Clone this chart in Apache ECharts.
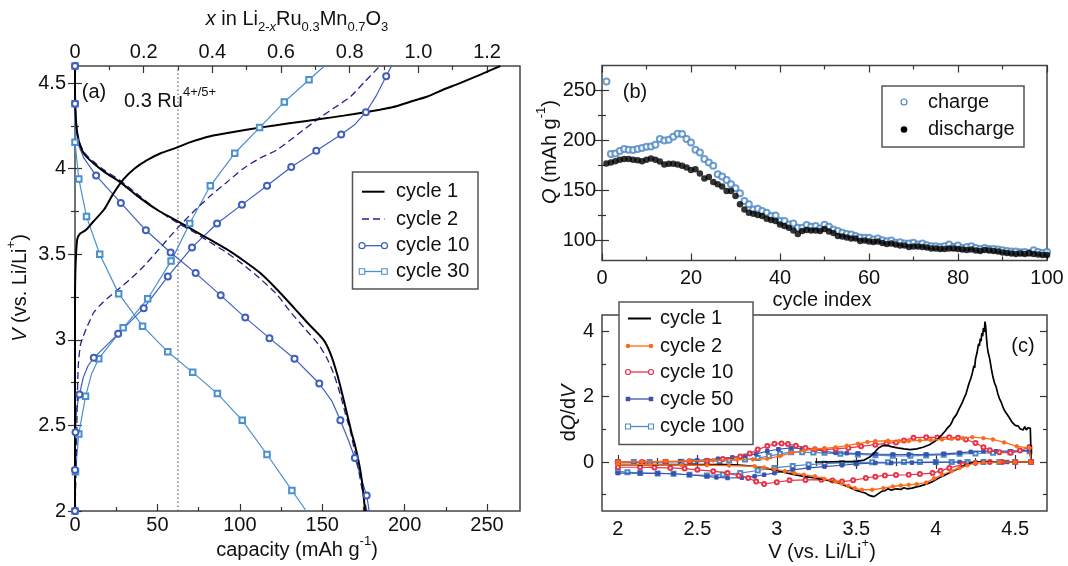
<!DOCTYPE html>
<html><head><meta charset="utf-8">
<script src="https://cdn.jsdelivr.net/npm/echarts@6/dist/echarts.min.js"></script>
<style>html,body{margin:0;padding:0;background:#fff}#c{width:1068px;height:566px}</style>
</head><body><div id="c"></div>
<script>
// ---------------- DATA ----------------
// Panel (a): [capacity mAh/g, V, marker flag]
const aCycle1Charge = [[0,2.0],[0,3.2],[0.3,3.42],[1.3,3.585],[3,3.62],[6.4,3.64],[11,3.69],[17.5,3.76],[23,3.85],[29.6,3.94],[36,4.0],[43.7,4.05],[52,4.09],[60.9,4.12],[70,4.155],[82,4.19],[96,4.215],[112,4.24],[130,4.265],[148.8,4.29],[163,4.31],[176,4.33],[185,4.345],[193,4.36],[203,4.39],[213.5,4.42],[223,4.46],[233.6,4.50],[246,4.55],[258,4.60]];
const aCycle1Discharge = [[0,4.6],[0,4.45],[0.5,4.3],[1.5,4.2],[3.3,4.13],[6,4.08],[11.4,4.03],[18,3.98],[27.6,3.92],[38,3.84],[49.8,3.76],[61,3.70],[72,3.64],[82,3.585],[92,3.53],[102,3.465],[112.4,3.39],[122,3.30],[132.6,3.19],[142,3.09],[150.8,3.0],[155,2.92],[158.9,2.805],[162,2.69],[165,2.57],[168,2.45],[170,2.38],[172.5,2.27],[174,2.18],[175.2,2.08],[176,2.0]];
const aCycle2Charge = [[0,2.0],[0.8,2.3],[1.3,2.6],[2,2.85],[3.3,2.97],[5,3.02],[7,3.07],[9.4,3.12],[11.4,3.16],[17,3.22],[25.6,3.29],[33,3.35],[41.7,3.43],[51,3.53],[61.9,3.65],[72,3.75],[82,3.84],[92,3.92],[102,4.0],[112,4.06],[122.5,4.11],[135,4.2],[148.8,4.30],[158,4.36],[167,4.42],[176,4.51],[185,4.6]];
const aCycle2Discharge = [[0,4.6],[0,4.45],[0.5,4.3],[1.5,4.2],[3.3,4.14],[6,4.09],[11.4,4.04],[18,3.99],[27.6,3.93],[38,3.85],[49.8,3.76],[61,3.69],[72,3.63],[82,3.57],[92,3.51],[102,3.44],[112,3.36],[122,3.27],[131,3.16],[140,3.06],[148,2.97],[153,2.89],[157,2.8],[161,2.68],[164,2.57],[167,2.47],[169,2.38],[171.5,2.27],[173.5,2.16],[175.5,2.07],[177,2.0]];
const aCycle10Charge = [[0,2.0,1],[0,2.24,1],[0.3,2.46,1],[1,2.6,0],[2.7,2.68,1],[5,2.78,0],[8,2.85,0],[11.4,2.895,1],[26.2,3.035,1],[41.7,3.185,1],[56.3,3.37,1],[71,3.54,1],[86.2,3.68,1],[101.3,3.79,1],[116.5,3.90,1],[131.2,4.01,1],[146.4,4.105,1],[161.5,4.20,1],[170,4.26,0],[176.5,4.33,1],[183,4.43,0],[188.8,4.54,1],[192,4.6,0]];
const aCycle10Discharge = [[0,4.6,1],[0,4.38,1],[0.4,4.25,0],[2,4.14,0],[5.5,4.06,0],[12.8,3.96,1],[27.8,3.80,1],[43,3.64,1],[58,3.51,1],[73.2,3.39,1],[88.4,3.26,1],[103.3,3.13,1],[118,3.01,1],[133.2,2.89,1],[148.2,2.745,1],[156,2.64,0],[161,2.53,1],[166,2.41,0],[169.8,2.31,1],[174,2.18,0],[177,2.09,1],[178.5,2.0,0]];
const aCycle30Charge = [[0,2.0,1],[0.3,2.23,1],[2.3,2.45,1],[6.4,2.67,1],[10,2.8,0],[14.4,2.89,1],[29.2,3.07,1],[44.1,3.24,1],[58.3,3.46,1],[69.6,3.68,1],[82.1,3.90,1],[96.9,4.09,1],[112,4.24,1],[127,4.39,1],[142,4.52,1],[151.4,4.6,0]];
const aCycle30Discharge = [[0,4.6,1],[0,4.38,1],[0,4.155,1],[2.3,3.94,1],[7,3.72,1],[15,3.50,1],[26.5,3.27,1],[41,3.08,1],[56.3,2.93,1],[71.4,2.81,1],[86.4,2.686,1],[101.5,2.53,1],[116.5,2.33,1],[131.6,2.12,1],[140.3,2.0,0]];
const ruLimitX = 0.3;           // x in Li(2-x)... for 0.3 Ru4+/5+
const capPerX = 250 / 1.2;      // capacity per unit x (top axis scale)

// Panel (b)
const cycleIndex = [1,2,3,4,5,6,7,8,9,10,11,12,13,14,15,16,17,18,19,20,21,22,23,24,25,26,27,28,29,30,31,32,33,34,35,36,37,38,39,40,41,42,43,44,45,46,47,48,49,50,51,52,53,54,55,56,57,58,59,60,61,62,63,64,65,66,67,68,69,70,71,72,73,74,75,76,77,78,79,80,81,82,83,84,85,86,87,88,89,90,91,92,93,94,95,96,97,98,99,100];
const qCharge = [259,186.4,187,189.4,191.4,190.7,190.4,191.4,192.4,193.7,194,195.7,201.4,200,200.8,203.8,206.8,206.5,201.4,198.1,190.7,188,181.4,178,174.7,166.3,164,160.6,156.2,152.2,147.2,139.5,136.2,131.1,131.8,129.5,127.8,124.4,125.1,119.4,119.4,116,117,112.7,112.7,115.4,113.7,114.4,112,115.7,113.7,111,109.4,107.7,106.4,106,104.4,103,102.7,102.7,101,102,100.3,99.3,100,97.7,98.3,97,97,97.7,96,97,95.3,94.3,94.3,93.6,94.3,96,93.6,95,92.6,93.6,94.3,92.6,91.6,92.6,91.6,91.6,91,90.3,89.6,89,89,88.3,88.6,87.6,90.3,88.6,87.6,88.6];
const qDischarge = [177,178,179.3,180.7,181.4,181.4,180.7,180.3,179.3,180.7,182,180.7,179,176,176.7,176.7,176,174.7,173,170.6,171.3,167,162,163.6,158.6,156.2,153.9,149.5,149.5,144.5,136.2,131.1,127.8,126.8,125.4,124.4,121.8,120.4,119.4,116,114.4,112.7,110,106.5,109.5,110.5,110,110,109.5,111.5,109,107.5,104.5,104,103,102,102,99.5,100,99,98.5,99,97.5,96.5,97,96,95,95,93.5,94,94,93.5,93,92,92,91.5,91.5,92,92,91.5,91,90.5,91,90,89.5,90.5,90,89.5,89,88,87.5,87,86.5,87,86.5,87.5,86.5,86,85.5,85.5];

// Panel (c): [V, dQ/dV]
const cCycle1 = [[3.24,0],[3.30,0.0],[3.40,0.01],[3.50,0.02],[3.55,0.06],[3.59,0.17],[3.62,0.32],[3.64,0.43],[3.67,0.51],[3.70,0.5],[3.72,0.47],[3.76,0.43],[3.80,0.40],[3.84,0.38],[3.88,0.40],[3.92,0.45],[3.96,0.53],[3.99,0.62],[4.02,0.74],[4.04,0.84],[4.06,0.95],[4.07,1.02],[4.09,1.12],[4.10,1.2],[4.11,1.32],[4.12,1.36],[4.13,1.45],[4.15,1.66],[4.16,1.72],[4.17,1.85],[4.18,1.98],[4.19,2.08],[4.20,2.25],[4.21,2.42],[4.22,2.55],[4.225,2.5],[4.23,2.72],[4.24,2.95],[4.245,2.88],[4.25,3.15],[4.26,3.35],[4.265,3.5],[4.27,3.62],[4.275,3.55],[4.28,3.78],[4.285,3.7],[4.29,3.95],[4.295,3.85],[4.30,4.1],[4.305,3.98],[4.31,4.3],[4.315,4.1],[4.32,3.75],[4.325,3.5],[4.33,3.35],[4.335,3.4],[4.34,3.15],[4.35,2.85],[4.355,2.9],[4.36,2.6],[4.37,2.42],[4.38,2.3],[4.385,2.34],[4.39,2.1],[4.40,1.95],[4.41,1.85],[4.42,1.72],[4.43,1.6],[4.44,1.52],[4.45,1.48],[4.46,1.38],[4.47,1.3],[4.48,1.22],[4.49,1.18],[4.50,1.12],[4.51,1.08],[4.52,1.1],[4.53,1.02],[4.54,1.05],[4.55,0.98],[4.56,1.08],[4.57,0.98],[4.58,1.05],[4.595,1.03],[4.598,0.5],[4.6,0],
  [4.5,0],[4.4,0],[4.25,0],[4.2,-0.06],[4.15,-0.18],[4.1,-0.3],[4.04,-0.44],[3.98,-0.6],[3.94,-0.68],[3.9,-0.74],[3.88,-0.76],[3.85,-0.8],[3.84,-0.77],[3.82,-0.82],[3.8,-0.79],[3.78,-0.84],[3.75,-0.82],[3.72,-0.86],[3.7,-0.82],[3.68,-0.88],[3.66,-0.9],[3.63,-1.0],[3.61,-1.06],[3.6,-1.0],[3.58,-1.02],[3.556,-0.95],[3.5,-0.87],[3.47,-0.8],[3.42,-0.7],[3.366,-0.6],[3.3,-0.54],[3.24,-0.49],[3.17,-0.44],[3.11,-0.39],[3.05,-0.32],[2.985,-0.24],[2.92,-0.18],[2.86,-0.13],[2.78,-0.1],[2.71,-0.08],[2.5,-0.08],[2.2,-0.08],[2.0,-0.08]];
const cCycle2 = [[2.0,0],[2.15,0.01],[2.3,0.02],[2.45,0.03],[2.6,0.05],[2.75,0.07],[2.85,0.08],[2.94,0.1],[3.02,0.18],[3.09,0.28],[3.17,0.35],[3.24,0.4],[3.3,0.42],[3.37,0.45],[3.44,0.5],[3.51,0.56],[3.57,0.61],[3.62,0.64],[3.7,0.65],[3.77,0.64],[3.83,0.64],[3.9,0.66],[3.97,0.67],[4.04,0.69],[4.1,0.71],[4.17,0.73],[4.23,0.76],[4.3,0.73],[4.36,0.69],[4.43,0.6],[4.51,0.48],[4.59,0.43],[4.6,0],
  [4.5,0],[4.4,0],[4.3,-0.01],[4.25,-0.03],[4.2,-0.1],[4.15,-0.18],[4.1,-0.28],[4.04,-0.39],[3.99,-0.5],[3.94,-0.63],[3.88,-0.68],[3.83,-0.7],[3.78,-0.72],[3.73,-0.75],[3.67,-0.8],[3.6,-0.85],[3.535,-0.85],[3.49,-0.8],[3.45,-0.73],[3.41,-0.66],[3.37,-0.6],[3.3,-0.52],[3.24,-0.44],[3.17,-0.39],[3.11,-0.34],[3.05,-0.28],[2.985,-0.22],[2.92,-0.17],[2.86,-0.13],[2.7,-0.11],[2.56,-0.1],[2.4,-0.09],[2.2,-0.08],[2.0,-0.07]];
const cCycle10 = [[2.0,0],[2.15,0.0],[2.3,0.01],[2.45,0.02],[2.56,0.04],[2.66,0.09],[2.77,0.17],[2.83,0.26],[2.88,0.38],[2.94,0.49],[2.985,0.56],[3.03,0.57],[3.07,0.55],[3.12,0.5],[3.18,0.43],[3.24,0.39],[3.3,0.38],[3.37,0.4],[3.45,0.43],[3.53,0.48],[3.62,0.53],[3.69,0.57],[3.75,0.6],[3.8,0.66],[3.86,0.74],[3.94,0.76],[4.01,0.75],[4.085,0.76],[4.14,0.74],[4.19,0.69],[4.25,0.58],[4.3,0.45],[4.34,0.36],[4.4,0.3],[4.47,0.28],[4.53,0.35],[4.59,0.46],[4.6,0],
  [4.5,0],[4.42,0],[4.34,0],[4.25,-0.02],[4.17,-0.08],[4.085,-0.18],[4.03,-0.27],[3.98,-0.34],[3.9,-0.37],[3.83,-0.39],[3.75,-0.4],[3.68,-0.41],[3.62,-0.45],[3.56,-0.49],[3.48,-0.56],[3.41,-0.6],[3.35,-0.57],[3.28,-0.54],[3.18,-0.55],[3.08,-0.56],[3.0,-0.62],[2.92,-0.67],[2.87,-0.6],[2.82,-0.49],[2.76,-0.42],[2.69,-0.34],[2.6,-0.28],[2.5,-0.24],[2.42,-0.2],[2.33,-0.18],[2.23,-0.17],[2.14,-0.16],[2.0,-0.16]];
const cCycle50 = [[2.0,0],[2.16,0.0],[2.3,0.01],[2.39,0.02],[2.5,0.05],[2.63,0.1],[2.72,0.14],[2.8,0.19],[2.87,0.25],[2.94,0.33],[3.01,0.39],[3.09,0.43],[3.16,0.41],[3.24,0.38],[3.3,0.33],[3.37,0.28],[3.44,0.27],[3.51,0.26],[3.62,0.24],[3.73,0.23],[3.83,0.23],[3.94,0.23],[4.05,0.25],[4.15,0.28],[4.22,0.31],[4.3,0.33],[4.38,0.33],[4.47,0.33],[4.59,0.36],[4.6,0],
  [4.45,0],[4.3,0],[4.15,0],[4.0,-0.01],[3.85,-0.02],[3.72,-0.03],[3.62,-0.03],[3.5,-0.06],[3.41,-0.1],[3.3,-0.14],[3.2,-0.18],[3.1,-0.24],[2.985,-0.34],[2.92,-0.39],[2.86,-0.44],[2.78,-0.48],[2.69,-0.49],[2.62,-0.47],[2.56,-0.44],[2.45,-0.39],[2.35,-0.36],[2.25,-0.35],[2.14,-0.34],[2.0,-0.34]];
const cCycle100 = [[2.0,0],[2.1,0.0],[2.2,0.0],[2.3,0.0],[2.4,0.01],[2.48,0.01],[2.56,0.02],[2.64,0.03],[2.7,0.05],[2.8,0.08],[2.88,0.12],[2.95,0.18],[3.02,0.25],[3.09,0.3],[3.16,0.3],[3.23,0.29],[3.3,0.28],[3.4,0.25],[3.51,0.23],[3.62,0.21],[3.73,0.19],[3.84,0.19],[3.94,0.2],[4.05,0.22],[4.15,0.25],[4.25,0.26],[4.36,0.28],[4.47,0.3],[4.59,0.33],[4.6,0],
  [4.5,0],[4.4,0],[4.3,0],[4.2,0],[4.1,0],[4.0,0],[3.9,0],[3.8,0],[3.7,-0.01],[3.6,-0.01],[3.5,-0.02],[3.41,-0.03],[3.3,-0.05],[3.2,-0.08],[3.1,-0.12],[2.985,-0.18],[2.88,-0.26],[2.77,-0.34],[2.66,-0.38],[2.56,-0.41],[2.45,-0.39],[2.35,-0.36],[2.25,-0.35],[2.14,-0.34],[2.06,-0.31],[2.0,-0.29]];

// Tick values
const aCapTicks = [0,50,100,150,200,250], aCapMinor = [25,75,125,175,225];
const aXTicks = [0,0.2,0.4,0.6,0.8,1.0,1.2], aXMinor = [0.1,0.3,0.5,0.7,0.9,1.1];
const aVTicks = [2,2.5,3,3.5,4,4.5], aVMinor = [2.25,2.75,3.25,3.75,4.25];
const bCycTicks = [0,20,40,60,80,100], bCycMinor = [10,30,50,70,90];
const bQTicks = [100,150,200,250], bQMinor = [125,175,225];
const cVTicks = [2,2.5,3,3.5,4,4.5], cVMinor = [2.25,2.75,3.25,3.75,4.25];
const cDTicks = [0,2,4], cDMinor = [-1,1,3];

// ---------------- CHART ----------------
const FONT = '"Liberation Sans", Arial, Helvetica, sans-serif';
const TICKFS = 20, TXTFS = 20;
const chart = echarts.init(document.getElementById('c'));

function axisPair(gridIndex, position, min, max, major, minor, showLabels, fmt, margin) {
  const base = {type:'value', gridIndex, position, min, max, axisLine:{show:false}, splitLine:{show:false}, axisPointer:{show:false}};
  const a = Object.assign({}, base, {
    axisTick:{show:true, inside:true, length:7, lineStyle:{color:'#333', width:1.2}, customValues: major},
    axisLabel:{show:showLabels, customValues: major, formatter: fmt, color:'#111', fontSize:TICKFS, fontFamily:FONT, margin: margin || 8}
  });
  const b = Object.assign({}, base, {
    axisTick:{show:true, inside:true, length:4, lineStyle:{color:'#333', width:1.2}, customValues: minor},
    axisLabel:{show:false}
  });
  return [a, b];
}
const fmtPlain = v => String(v);
const fmtX = v => (v === 0 ? '0' : v.toFixed(1));

const xAxis = [].concat(
  axisPair(0,'bottom',0,270,aCapTicks,aCapMinor,true,fmtPlain,4),          // 0,1
  axisPair(0,'top',0,270/capPerX,aXTicks,aXMinor,true,fmtX,4),              // 2,3
  axisPair(1,'bottom',0,100,bCycTicks,bCycMinor,true,fmtPlain,8),           // 4,5
  axisPair(1,'top',0,100,bCycTicks,bCycMinor,false),                        // 6,7
  axisPair(2,'bottom',1.9,4.7,cVTicks,cVMinor,true,fmtPlain,8),             // 8,9
  axisPair(2,'top',1.9,4.7,cVTicks,cVMinor,false)                           // 10,11
);
const yAxis = [].concat(
  axisPair(0,'left',2,4.6,aVTicks,aVMinor,true,fmtPlain,9),                 // 0,1
  axisPair(0,'right',2,4.6,aVTicks,aVMinor,false),                          // 2,3
  axisPair(1,'left',80,275,bQTicks,bQMinor,true,fmtPlain,6),                // 4,5
  axisPair(1,'right',80,275,bQTicks,bQMinor,false),                         // 6,7
  axisPair(2,'left',-1.5,4.5,cDTicks,cDMinor,true,fmtPlain,8),              // 8,9
  axisPair(2,'right',-1.5,4.5,cDTicks,cDMinor,false)                        // 10,11
);

const C10 = '#3f5fbf', C30 = '#4a8fd0', C2 = '#23238f';
function pts(arr) {
  return arr.map(p => (p[2] === 0 ? {value:[p[0],p[1]], symbol:'none'} : {value:[p[0],p[1]]}));
}
function aLine(name, data, color, opts) {
  return Object.assign({type:'line', name, xAxisIndex:0, yAxisIndex:0, data, showSymbol:true,
    symbol:'none', lineStyle:{color, width:1.2}, itemStyle:{color, borderColor:color, borderWidth:1},
    animation:false, z:3}, opts || {});
}
const series = [
  {type:'line', name:'ru', xAxisIndex:2, yAxisIndex:0, data:[[ruLimitX,2],[ruLimitX,4.6]], symbol:'none',
   lineStyle:{color:'#666', width:1.2, type:[1.5,2.5]}, animation:false, z:1},
  aLine('cycle 30', pts(aCycle30Charge), C30, {symbol:'emptyRect', symbolSize:5.5}),
  aLine('cycle 30', pts(aCycle30Discharge), C30, {symbol:'emptyRect', symbolSize:5.5}),
  aLine('cycle 10', pts(aCycle10Charge), C10, {symbol:'emptyCircle', symbolSize:6}),
  aLine('cycle 10', pts(aCycle10Discharge), C10, {symbol:'emptyCircle', symbolSize:6}),
  aLine('cycle 2', aCycle2Charge, C2, {smooth:0.25, lineStyle:{color:C2, width:1.3, type:[7,4]}}),
  aLine('cycle 2', aCycle2Discharge, C2, {smooth:0.25, lineStyle:{color:C2, width:1.3, type:[7,4]}}),
  aLine('cycle 1', aCycle1Charge, '#000', {smooth:0.25, lineStyle:{color:'#000', width:2}}),
  aLine('cycle 1', aCycle1Discharge, '#000', {smooth:0.25, lineStyle:{color:'#000', width:2}}),
  {type:'scatter', name:'charge', xAxisIndex:4, yAxisIndex:4, data: qCharge.map((q,i)=>[cycleIndex[i], q]),
   symbol:'emptyCircle', symbolSize:6, itemStyle:{color:'#4a86c0', borderColor:'#4a86c0', borderWidth:1.4}, animation:false, z:2},
  {type:'scatter', name:'discharge', xAxisIndex:4, yAxisIndex:4, data: qDischarge.map((q,i)=>[cycleIndex[i], q]),
   symbol:'circle', symbolSize:6.5, itemStyle:{color:'#000'}, animation:false, z:3},
];
function cLine(name, data, color, symbol, size, width, z) {
  return {type:'line', name, xAxisIndex:8, yAxisIndex:8, data, symbol, symbolSize:size, showSymbol: symbol !== 'none',
    lineStyle:{color, width}, itemStyle:{color, borderColor:color, borderWidth:1}, animation:false, z};
}
series.push(
  cLine('cycle 100', cCycle100, '#4f8ac9', 'emptyRect', 4, 1.2, 3),
  cLine('cycle 50', cCycle50, '#3853b0', 'rect', 3.5, 1.2, 4),
  cLine('cycle 10', cCycle10, '#e8334a', 'emptyCircle', 4, 1.2, 5),
  cLine('cycle 1', cCycle1, '#000', 'none', 0, 1.7, 6),
  cLine('cycle 2', cCycle2, '#ff6a1a', 'circle', 3.5, 1.3, 7)
);

// ---------------- GRAPHIC TEXT & LEGENDS ----------------
const txt = (x, y, text, rich, extra) => Object.assign({type:'text', x, y, z:50,
  style:{text, rich: rich || {}, font: TXTFS + 'px ' + FONT, fill:'#111', align:'center', verticalAlign:'middle'}}, extra || {});
const RICH = {
  n:{fontSize:TXTFS, fontFamily:FONT, lineHeight:30, verticalAlign:'middle'},
  i:{fontSize:TXTFS, fontFamily:FONT, fontStyle:'italic', lineHeight:30},
  sub:{fontSize:13, fontFamily:FONT, lineHeight:13, verticalAlign:'bottom'},
  subi:{fontSize:13, fontFamily:FONT, fontStyle:'italic', lineHeight:13, verticalAlign:'bottom'},
  sup:{fontSize:13, fontFamily:FONT, lineHeight:13, verticalAlign:'top'}
};
function legend(box, rows, rowY, lineX1, lineX2, textX, kind) {
  const els = [{type:'rect', z:40, shape:{x:box[0], y:box[1], width:box[2]-box[0], height:box[3]-box[1]},
    style:{fill:'#fff', stroke:'#555', lineWidth:1.5}}];
  rows.forEach((r, i) => {
    const y = rowY[i];
    if (kind !== 'sym') {
      els.push({type:'line', z:41, shape:{x1:lineX1, y1:y, x2:lineX2, y2:y},
        style:{stroke:r.color, lineWidth:r.width || 1.3, lineDash:r.dash || null}});
    }
    const ends = kind === 'sym' ? [(lineX1+lineX2)/2] : [lineX1, lineX2];
    if (r.sym) ends.forEach(cx => {
      const s = r.size;
      const fill = r.fill ? r.color : '#fff';
      if (r.sym === 'circle') els.push({type:'circle', z:42, shape:{cx, cy:y, r:s/2}, style:{fill, stroke:r.color, lineWidth:r.fill ? 0 : 1.2}});
      else els.push({type:'rect', z:42, shape:{x:cx-s/2, y:y-s/2, width:s, height:s}, style:{fill, stroke:r.color, lineWidth:r.fill ? 0 : 1.1}});
    });
    els.push({type:'text', z:43, x:textX, y, style:{text:r.label, font:TXTFS + 'px ' + FONT, fill:'#111', align:'left', verticalAlign:'middle'}});
  });
  return els;
}
const graphic = [].concat(
  [
    txt(297, 19, '{i|x}{n| in Li}{sub|2-}{subi|x}{n|Ru}{sub|0.3}{n|Mn}{sub|0.7}{n|O}{sub|3}', RICH),
    txt(297, 550, '{n|capacity (mAh g}{sup|-1}{n|)}', RICH),
    txt(20, 288, '{i|V}{n| (vs. Li/Li}{sup|+}{n|)}', RICH, {rotation: Math.PI/2}),
    txt(94, 92, '(a)'),
    txt(124, 101, '', null, {style:{text:'{n|0.3 Ru}{sup|4+/5+}', rich:RICH, font:TXTFS+'px '+FONT, fill:'#111', align:'left', verticalAlign:'middle'}}),
    txt(550, 152, '{i|Q}{n| (mAh g}{sup|-1}{n|)}', RICH, {rotation: Math.PI/2}),
    txt(822, 300, 'cycle index'),
    txt(635, 92, '(b)'),
    txt(569, 413, '{n|d}{i|Q}{n|/d}{i|V}', RICH, {rotation: Math.PI/2}),
    txt(822, 552, '{n|V (vs. Li/Li}{sup|+}{n|)}', RICH),
    txt(1023, 346, '(c)')
  ],
  legend([352.5,172,478,289], [
    {label:'cycle 1', color:'#000', width:2},
    {label:'cycle 2', color:C2, dash:[7,4]},
    {label:'cycle 10', color:C10, sym:'circle', size:6},
    {label:'cycle 30', color:C30, sym:'rect', size:5.5}
  ], [191.7,219,245.7,271.5], 362, 384.5, 396),
  legend([882,86,1024,147], [
    {label:'charge', color:'#4a86c0', sym:'circle', size:6},
    {label:'discharge', color:'#000', sym:'circle', size:6.5, fill:true}
  ], [102,129.5], 898, 910, 928, 'sym'),
  legend([619,302,753,444.5], [
    {label:'cycle 1', color:'#000', width:2},
    {label:'cycle 2', color:'#ff6a1a', sym:'circle', size:4.5, fill:true},
    {label:'cycle 10', color:'#e8334a', sym:'circle', size:5},
    {label:'cycle 50', color:'#3853b0', sym:'rect', size:4.5, fill:true},
    {label:'cycle 100', color:'#4f8ac9', sym:'rect', size:5}
  ], [318.5,346,372,399,426.5], 628, 651, 660)
);

chart.setOption({
  animation:false,
  backgroundColor:'#fff',
  grid:[
    {left:75, top:66, width:445, height:445, show:true, borderColor:'#444', borderWidth:1.5, backgroundColor:'transparent', containLabel:false},
    {left:602, top:65.5, width:445, height:195, show:true, borderColor:'#444', borderWidth:1.5, backgroundColor:'transparent', containLabel:false},
    {left:602, top:315, width:445, height:196, show:true, borderColor:'#444', borderWidth:1.5, backgroundColor:'transparent', containLabel:false}
  ],
  xAxis, yAxis, series, graphic
});
</script></body></html>
